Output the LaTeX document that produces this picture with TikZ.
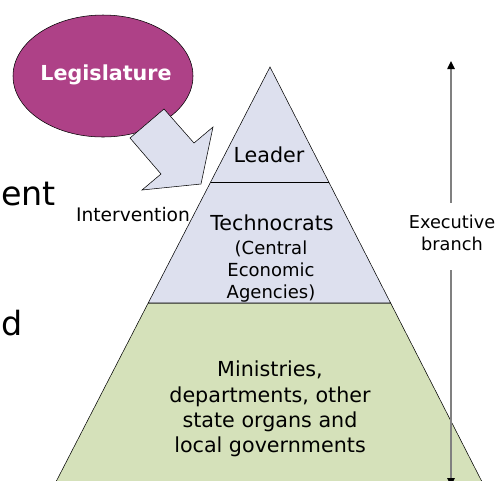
\documentclass[tikz,border=0pt]{standalone}
\usepackage{fontspec}
\setmainfont{DejaVu Sans}
\usetikzlibrary{arrows.meta}
\definecolor{tierblue}{RGB}{221,224,238}
\definecolor{tiergreen}{RGB}{213,225,186}
\definecolor{legpurple}{RGB}{174,65,135}
\begin{document}
\begin{tikzpicture}[x=0.75pt,y=0.75pt,yscale=-1,xscale=1,
    tier/.style={font=\fontsize{15.5}{19}\selectfont,align=center,inner sep=0pt},
    subtier/.style={font=\fontsize{13.5}{16.5}\selectfont,align=center,inner sep=0pt},
    sidelabel/.style={font=\fontsize{13.3}{17}\selectfont,align=center,inner sep=0pt},
    cuttext/.style={font=\fontsize{25}{30}\selectfont,inner sep=0pt},
    execline/.style={draw=gray,line width=1.1pt,-{Triangle[length=6pt,width=5.5pt,color=black]}}]
    \useasboundingbox (0,0) rectangle (502,480);
    \clip (0,0) rectangle (502,480);

    %Shape: Trapezoid (lower tier)
    \draw [fill=tiergreen] (148.2,303) -- (390.6,303) -- (491.3,500) -- (46.6,500) -- cycle ;
    %Shape: Triangle (upper tiers)
    \draw [fill=tierblue] (270,67) -- (390.6,303) -- (148.2,303) -- cycle ;
    %Straight Lines
    \draw (210.7,182) -- (328.8,182) ;

    %Shape: Ellipse
    \draw [fill=legpurple] (103,76) ellipse [x radius=90, y radius=61] ;
    %Shape: Block Arrow
    \draw [fill=tierblue,line join=miter] (164,109) -- (194,143) -- (213,127) -- (201,184) -- (142,190) -- (161,174) -- (130,138) -- cycle ;

    % Text Node
    \node (legis) [anchor=base,inner sep=0pt,text=white,font=\fontsize{15.5}{19}\selectfont\bfseries] at (106,80) {Legislature};
    % Text Node
    \node (interv) [anchor=base,inner sep=0pt,font=\fontsize{14}{17}\selectfont] at (133,221) {Intervention};
    % Text Node
    \node (leader) [tier,anchor=base] at (269,162) {Leader};
    % Text Node
    \node (techno) [tier,anchor=base] at (272,230) {Technocrats};
    % Text Node
    \node (agency) [subtier] at (271,272) {(Central\\Economic\\Agencies)};
    % Text Node
    \node (ministry) [tier] at (270,409) {Ministries,\\departments, other\\state organs and\\local governments};
    % Text Node
    \node (exec) [sidelabel] at (452,233) {Executive\\branch};
    % Text Node
    \node (ent) [cuttext,anchor=base west] at (1,205) {ent};
    % Text Node
    \node (and) [cuttext,anchor=base west] at (1,335) {d};

    \coordinate (exectop) at (451,61);
    \coordinate (execbot) at (451,486);
    %Straight Lines
    \draw [execline,shorten <=9pt] (exec.north -| exectop) -- (exectop) ;
    \draw [execline,shorten <=14pt] (exec.south -| execbot) -- (execbot) ;
\end{tikzpicture}
\end{document}
